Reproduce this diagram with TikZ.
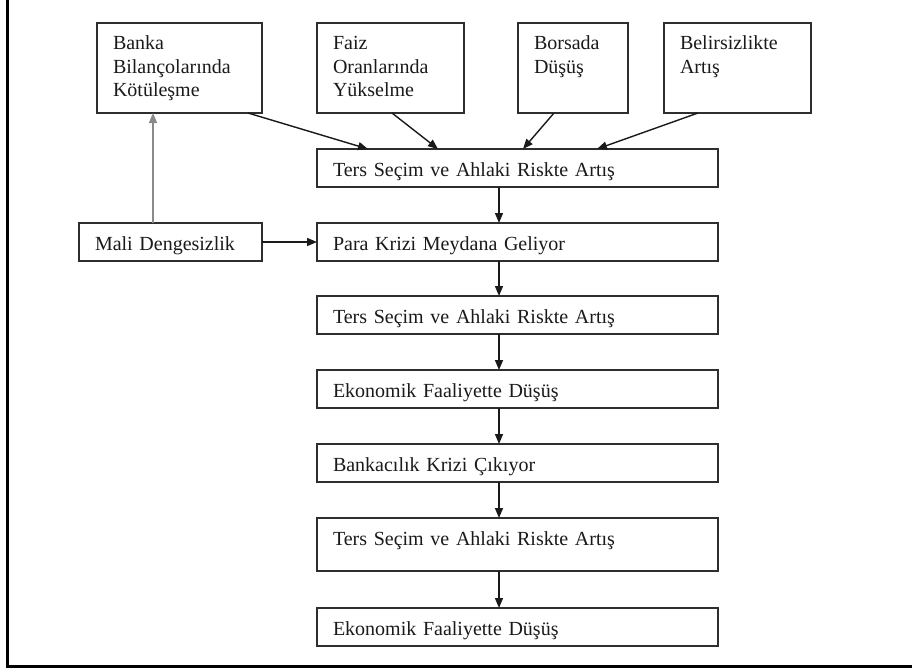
\documentclass[tikz,border=0pt]{standalone}
\usepackage{fontspec}
\setmainfont{Liberation Serif}
\usetikzlibrary{arrows.meta,positioning}
\definecolor{ink}{HTML}{1A1A1A}
\definecolor{boxline}{HTML}{2E2E2E}
\definecolor{linegray}{HTML}{8A8A8A}
\tikzset{
  box/.style={draw=boxline, line width=2pt, fill=white, align=left, inner xsep=16pt, inner ysep=0pt, outer sep=0pt, font=\fontsize{20}{23.5}\selectfont, text=ink, text height=27.5pt, text depth=10.5pt},
  topbox/.style={box, anchor=north west, text height=26.5pt, text depth=63.5pt},
  rowbox/.style={box, text width=369pt},
  arrow/.style={-{Triangle[length=10pt,width=8pt]}, line width=1.4pt, draw=ink},
  grayarrow/.style={arrow, draw=linegray},
  outerframe/.style={line width=3pt, draw=black}
}

\begin{document}
\begin{tikzpicture}[x=1pt, y=-1pt]
\useasboundingbox[fill=white] (0,0) rectangle (912,670);
\draw[outerframe] (7.5,-5) -- (7.5,666) -- (920,666);
\node[topbox, text width=133pt] (banka) at (97,23) {Banka\\Bilançolarında\\Kötüleşme};
\node[topbox, text width=115pt] (faiz) at (317,23) {Faiz\\Oranlarında\\Yükselme};
\node[topbox, text width=78pt] (borsa) at (518,23) {Borsada\\Düşüş};
\node[topbox, text width=115pt] (belirsiz) at (664,23) {Belirsizlikte\\Artış};
\node[rowbox, anchor=north west] (ters1) at (317,149) {Ters Seçim ve Ahlaki Riskte Artış};
\node[rowbox, below=36pt of ters1] (para) {Para Krizi Meydana Geliyor};
\node[rowbox, below=35pt of para] (ters2) {Ters Seçim ve Ahlaki Riskte Artış};
\node[rowbox, below=36pt of ters2] (eko1) {Ekonomik Faaliyette Düşüş};
\node[rowbox, below=36pt of eko1] (bank) {Bankacılık Krizi Çıkıyor};
\node[rowbox, below=36pt of bank, text depth=25.5pt] (ters3) {Ters Seçim ve Ahlaki Riskte Artış};
\node[rowbox, below=37pt of ters3] (eko2) {Ekonomik Faaliyette Düşüş};
\node[box, text width=151pt, left=55pt of para] (mali) {Mali Dengesizlik};
\draw[arrow] ([xshift=-14pt]banka.south east) -- ([xshift=51pt]ters1.north west);
\draw[arrow] ([xshift=75pt]faiz.south west) -- ([xshift=121pt]ters1.north west);
\draw[arrow] ([xshift=36pt]borsa.south west) -- ([xshift=206pt]ters1.north west);
\draw[arrow] ([xshift=34pt]belirsiz.south west) -- ([xshift=280pt]ters1.north west);
\draw[grayarrow] ([xshift=-17.5pt]mali.north) -- ([xshift=-26.5pt]banka.south);
\draw[arrow] (mali) -- (para);
\foreach \a/\b in {ters1/para,para/ters2,ters2/eko1,eko1/bank,bank/ters3,ters3/eko2}
  \draw[arrow] ([xshift=-18.5pt]\a.south) -- ([xshift=-18.5pt]\b.north);
\end{tikzpicture}
\end{document}
